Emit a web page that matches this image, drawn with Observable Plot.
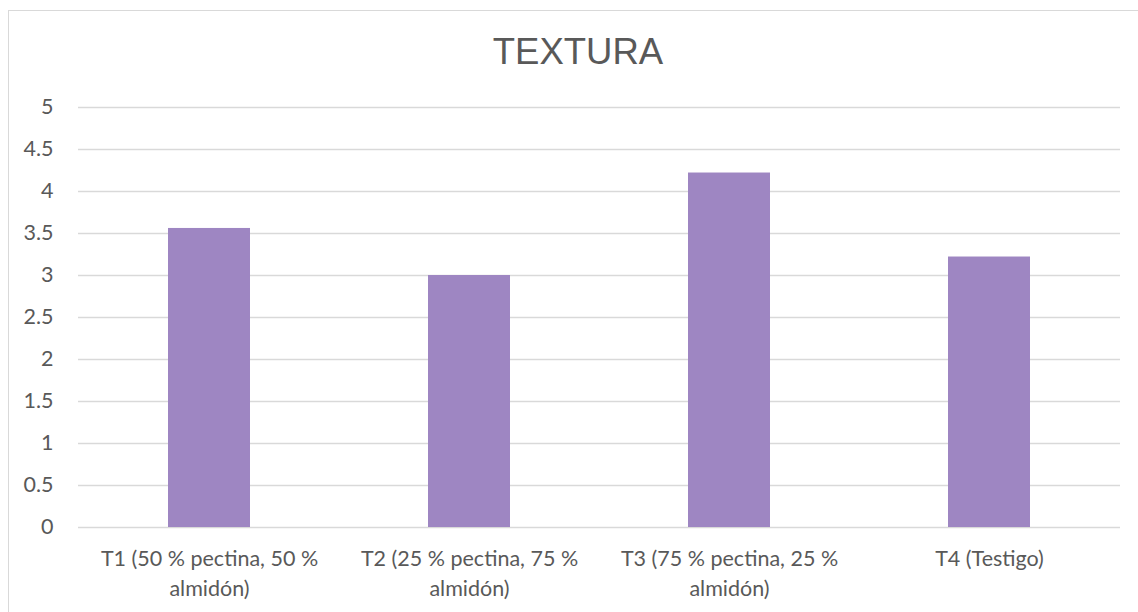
<!DOCTYPE html>
<html>
<head>
<meta charset="utf-8">
<script src="https://cdn.jsdelivr.net/npm/d3@7"></script>
<script src="https://cdn.jsdelivr.net/npm/@observablehq/plot@0.6"></script>
<style>
  html, body { margin: 0; padding: 0; background: #fff; }
  #chart { position: relative; width: 1138px; height: 612px; overflow: hidden; font-family: Lato, "Open Sans", sans-serif; }
  #border { position: absolute; left: 8px; top: 10px; width: 1200px; height: 640px; border: 1.5px solid #d9d9d9; box-sizing: border-box; }
  #title { position: absolute; left: 9px; width: 1138px; top: 34px; text-align: center; font-family: "Liberation Sans", Arial, sans-serif; font-size: 36.5px; color: #595959; line-height: 36px; }
  #plot { position: absolute; left: 0; top: 0; }
</style>
</head>
<body>
<div id="chart">
  <div id="border"></div>
  <div id="plot"></div>
  <div id="title">TEXTURA</div>
</div>
<script>
const categories = [
  "T1 (50 % pectina, 50 % almidón)",
  "T2 (25 % pectina, 75 % almidón)",
  "T3 (75 % pectina, 25 % almidón)",
  "T4 (Testigo)"
];
const tickLabels = [
  "T1 (50 % pectina, 50 %\nalmidón)",
  "T2 (25 % pectina, 75 %\nalmidón)",
  "T3 (75 % pectina, 25 %\nalmidón)",
  "T4 (Testigo)"
];
const values = [3.56, 3.0, 4.22, 3.22];
const yTicks = [0, 0.5, 1, 1.5, 2, 2.5, 3, 3.5, 4, 4.5, 5];

const data = categories.map((c, i) => ({category: c, value: values[i]}));
const labelOf = new Map(categories.map((c, i) => [c, tickLabels[i]]));

const chart = Plot.plot({
  width: 1138,
  height: 612,
  marginTop: 107,
  marginBottom: 85,
  marginLeft: 78,
  marginRight: 18,
  style: {fontFamily: "Lato, 'Open Sans', sans-serif", fontSize: "21.5px", color: "#595959", background: "transparent"},
  x: {domain: categories, paddingInner: 0.686, paddingOuter: 0.343, label: null},
  y: {domain: [0, 5], label: null},
  marks: [
    Plot.gridY(yTicks, {stroke: "#d9d9d9", strokeOpacity: 1, strokeWidth: 1.5}),
    Plot.barY(data, {x: "category", y: "value", fill: "#9e86c2"}),
    Plot.axisY(yTicks, {tickSize: 0, tickPadding: 25, tickFormat: d => String(d), fill: "#595959", fontSize: 21.5}),
    Plot.axisX({tickSize: 0, tickPadding: 18, tickFormat: d => labelOf.get(d), lineHeight: 1.36, fill: "#595959", fontSize: 21.5})
  ]
});
document.getElementById("plot").appendChild(chart);
</script>
</body>
</html>
